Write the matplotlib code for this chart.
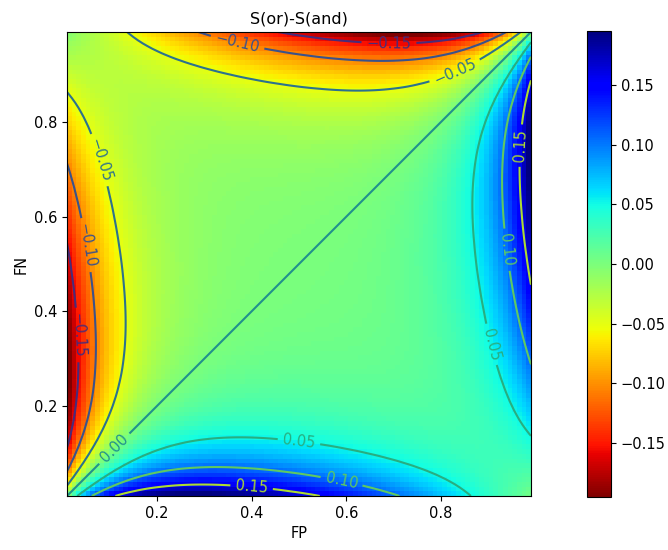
import numpy as np
import matplotlib
matplotlib.use("Agg")
import matplotlib.pyplot as plt

# grid of the two error rates
fp = np.arange(0.01, 1.0, 0.01)
fn = np.arange(0.01, 1.0, 0.01)

# shape of the difference surface, fitted to the contours of the reference
edge_scale = 0.464   # height of the bumps along the four edges
edge_width = 0.15    # how fast a bump rises from the corner
decay = 0.1          # how fast a bump fades away from its edge

FP, FN = np.meshgrid(fp, fn)


def edge(d, t):
    # bump along an edge (position t) that fades with distance d from it
    return t * (1 - t) / (t + edge_width) * np.exp(-d / decay)


Z = edge_scale * (-edge(FP, FN) + edge(FN, FP)
                  - edge(1 - FN, 1 - FP) + edge(1 - FP, 1 - FN))

plt.rcParams['font.size'] = 10.5

fig = plt.figure(figsize=(6.68, 5.5), dpi=100)
ax = fig.add_axes([0.1003, 0.0964, 0.6946, 0.8473])
im = ax.imshow(Z, cmap='jet_r', origin='lower', extent=[0.01, 0.99, 0.01, 0.99])
cs = ax.contour(FP, FN, Z)
ax.clabel(cs, inline=True, fontsize=10.5)
ax.set_xlabel("FP")
ax.set_ylabel("FN")
ax.set_title("S(or)-S(and)", fontsize=11.5)

cax = fig.add_axes([0.8787, 0.0964, 0.0359, 0.8473])
fig.colorbar(im, cax=cax)

fig.savefig("out.png", dpi=100)
